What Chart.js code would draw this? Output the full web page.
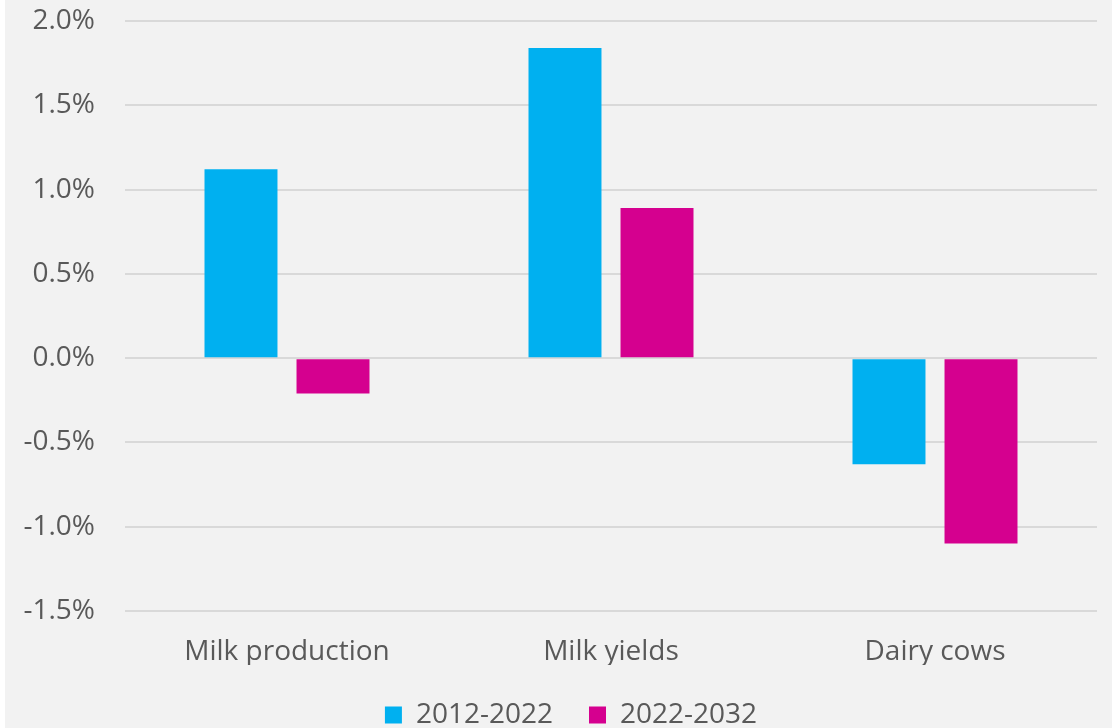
<!DOCTYPE html>
<html>
<head>
<meta charset="utf-8">
<script src="https://cdn.jsdelivr.net/npm/chart.js@4/dist/chart.umd.min.js"></script>
<style>
  html, body { margin: 0; padding: 0; background: #ffffff; }
  #wrap { position: absolute; left: 5px; top: 0; width: 1107px; height: 728px; background: #f2f2f2; }
</style>
</head>
<body>
<div id="wrap"><canvas id="milkChart" width="1107" height="728"></canvas></div>
<script>
// annual growth rates, % per year
const categories = ["Milk production", "Milk yields", "Dairy cows"];
const periods = ["2012-2022", "2022-2032"];
const growth2012 = [1.12, 1.84, -0.63];
const growth2022 = [-0.21, 0.89, -1.10];
const yMin = -1.5, yMax = 2.0, yStep = 0.5;

const textColor = "#595959";
const fontFamily = "'Open Sans', 'Noto Sans', sans-serif";
const fontSize = 28;

// keep the legend compact under the axis and nudge it a bit to the right
const legendTweak = {
  id: "legendTweak",
  beforeLayout(chart) {
    const legend = chart.legend;
    if (!legend || legend._tweaked) return;
    const fit = legend.fit;
    legend.fit = function () {
      fit.call(this);
      this.height = 63;
    };
    legend._tweaked = true;
  },
  afterLayout(chart) {
    const legend = chart.legend;
    if (!legend) return;
    legend.left += 20;
    legend.right += 20;
  }
};

new Chart("milkChart", {
  type: "bar",
  data: {
    labels: categories,
    datasets: [
      { label: periods[0], data: growth2012, backgroundColor: "#00b0f0" },
      { label: periods[1], data: growth2022, backgroundColor: "#d5008f" }
    ]
  },
  options: {
    responsive: false,
    animation: false,
    layout: { padding: { top: 21, right: 15, bottom: 0, left: 0 } },
    datasets: {
      bar: { categoryPercentage: 0.568, barPercentage: 0.793 }
    },
    plugins: {
      tooltip: { enabled: false },
      legend: {
        position: "bottom",
        labels: {
          color: textColor,
          font: { family: fontFamily, size: fontSize },
          boxWidth: 17,
          boxHeight: 17,
          padding: 36
        }
      }
    },
    scales: {
      x: {
        afterFit: scale => { scale.height = 54; },
        grid: { display: false, drawTicks: false },
        border: { display: false },
        ticks: {
          color: textColor,
          font: { family: fontFamily, size: fontSize },
          padding: 24
        }
      },
      y: {
        min: yMin,
        max: yMax,
        afterFit: scale => {
          scale.width = 120;
          scale.paddingTop = 12;
          scale.paddingBottom = 12;
        },
        grid: { color: "#d9d9d9", lineWidth: 2, drawTicks: false },
        border: { display: false },
        ticks: {
          stepSize: yStep,
          color: textColor,
          font: { family: fontFamily, size: fontSize },
          padding: 30,
          callback: v => v.toFixed(1) + "%"
        }
      }
    }
  },
  plugins: [legendTweak]
});
</script>
</body>
</html>
